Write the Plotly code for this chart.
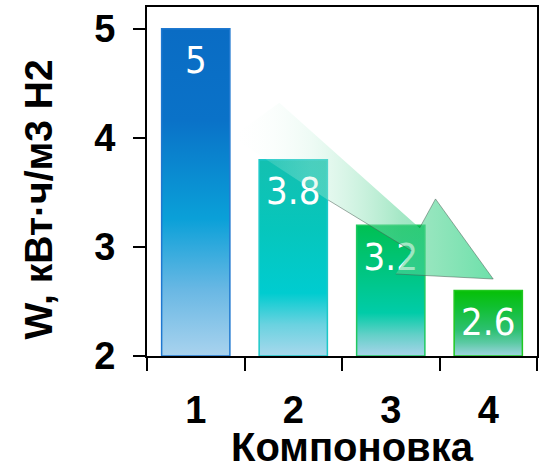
import plotly.graph_objects as go

# Data
CATEGORIES = ["1", "2", "3", "4"]
VALUES = [5.0, 3.8, 3.2, 2.6]
VALUE_LABELS = ["5", "3.8", "3.2", "2.6"]
Y_TICKS = [2, 3, 4, 5]

# Styling
Y_MIN, Y_MAX = 2.0, 5.2
BAR_HALF = 0.35
LABEL_DROP = 0.32
BAR_GRADIENTS = [
    [[0, "#a9d3ee"], [0.2, "#6ab8e4"], [0.42, "#0aa0d8"], [0.72, "#0a72c8"], [1, "#0a6cc4"]],
    [[0, "#a8d8ec"], [0.16, "#6ad2e0"], [0.32, "#00ccd0"], [0.65, "#06c6bc"], [1, "#14c0b0"]],
    [[0, "#a8d4ea"], [0.16, "#64d0c8"], [0.33, "#00cca8"], [0.7, "#00c47a"], [1, "#00c052"]],
    [[0, "#a0d4e2"], [0.2, "#5ccaa4"], [0.4, "#2cc070"], [0.75, "#10c030"], [1, "#06c006"]],
]
BAR_EDGES = ["#1f78d0", "#1cc8c8", "#20c860", "#20c820"]

# Decorative arrow (data coordinates)
ARROW_X = [1.857, 3.296, 3.459, 4.051, 3.051, 3.214, 2.357, 1.367, 1.857]
ARROW_Y = [4.321, 3.174, 3.440, 2.706, 2.752, 2.963, 3.431, 4.009, 4.321]
ARROW_EDGE_X = [2.357, 3.214, None, 3.296, 3.459, 4.051, 3.051]
ARROW_EDGE_Y = [3.431, 2.963, None, 3.174, 3.440, 2.706, 2.752]

BOLD = dict(family="Liberation Sans, Arial, sans-serif", color="black", weight="bold")

fig = go.Figure()

positions = [i + 1 for i in range(len(CATEGORIES))]

for x, v, grad, edge in zip(positions, VALUES, BAR_GRADIENTS, BAR_EDGES):
    fig.add_trace(go.Scatter(
        x=[x - BAR_HALF, x + BAR_HALF, x + BAR_HALF, x - BAR_HALF, x - BAR_HALF],
        y=[Y_MIN, Y_MIN, v, v, Y_MIN],
        mode="lines",
        fill="toself",
        fillgradient=dict(type="vertical", colorscale=grad, start=Y_MIN, stop=v),
        line=dict(color=edge, width=1.5),
        hoverinfo="skip",
        showlegend=False,
    ))

fig.add_trace(go.Scatter(
    x=positions,
    y=[v - LABEL_DROP for v in VALUES],
    mode="text",
    text=VALUE_LABELS,
    textposition="middle center",
    textfont=dict(family="DejaVu Sans Condensed, Liberation Sans Narrow, sans-serif",
                  size=38, color="white"),
    hoverinfo="skip",
    showlegend=False,
))

fig.add_trace(go.Scatter(
    x=ARROW_X,
    y=ARROW_Y,
    mode="lines",
    fill="toself",
    fillgradient=dict(
        type="horizontal",
        colorscale=[
            [0, "rgba(255,255,255,0)"],
            [0.3, "rgba(200,242,222,0.3)"],
            [0.65, "rgba(90,212,150,0.55)"],
            [1, "rgba(40,210,130,0.68)"],
        ],
    ),
    line=dict(width=0),
    hoverinfo="skip",
    showlegend=False,
))

fig.add_trace(go.Scatter(
    x=ARROW_EDGE_X,
    y=ARROW_EDGE_Y,
    mode="lines",
    line=dict(color="rgba(70,90,80,0.5)", width=1),
    hoverinfo="skip",
    showlegend=False,
))

fig.update_xaxes(
    range=[0.5, 4.5],
    tickvals=positions,
    ticktext=CATEGORIES,
    ticks="",
    ticklen=0,
    ticklabelstandoff=19,
    tickfont=dict(size=38, **BOLD),
    showline=True, linecolor="black", linewidth=2, mirror=True,
    showgrid=False, zeroline=False,
    minor=dict(tickvals=[p - 0.5 for p in positions] + [positions[-1] + 0.5],
               ticks="outside", ticklen=13, tickwidth=2, tickcolor="black"),
)
fig.update_yaxes(
    range=[Y_MIN, Y_MAX],
    tickvals=Y_TICKS,
    ticks="outside", ticklen=12, tickwidth=2, tickcolor="black",
    ticklabelstandoff=10,
    tickfont=dict(size=38, **BOLD),
    showline=True, linecolor="black", linewidth=2, mirror=True,
    showgrid=False, zeroline=False,
)

fig.add_annotation(
    text="W, кВт·ч/м3 H2", textangle=-90,
    xref="paper", yref="paper", x=-0.278, y=0.447,
    xanchor="center", yanchor="middle", showarrow=False,
    font=dict(size=39, **BOLD),
)
fig.add_annotation(
    text="Компоновка",
    xref="paper", yref="paper", x=0.528, y=-0.262,
    xanchor="center", yanchor="middle", showarrow=False,
    font=dict(size=40, **BOLD),
)

fig.update_layout(
    width=543, height=469,
    margin=dict(l=147, r=4, t=7, b=113),
    paper_bgcolor="white", plot_bgcolor="white",
)

fig.write_html("out.html")
